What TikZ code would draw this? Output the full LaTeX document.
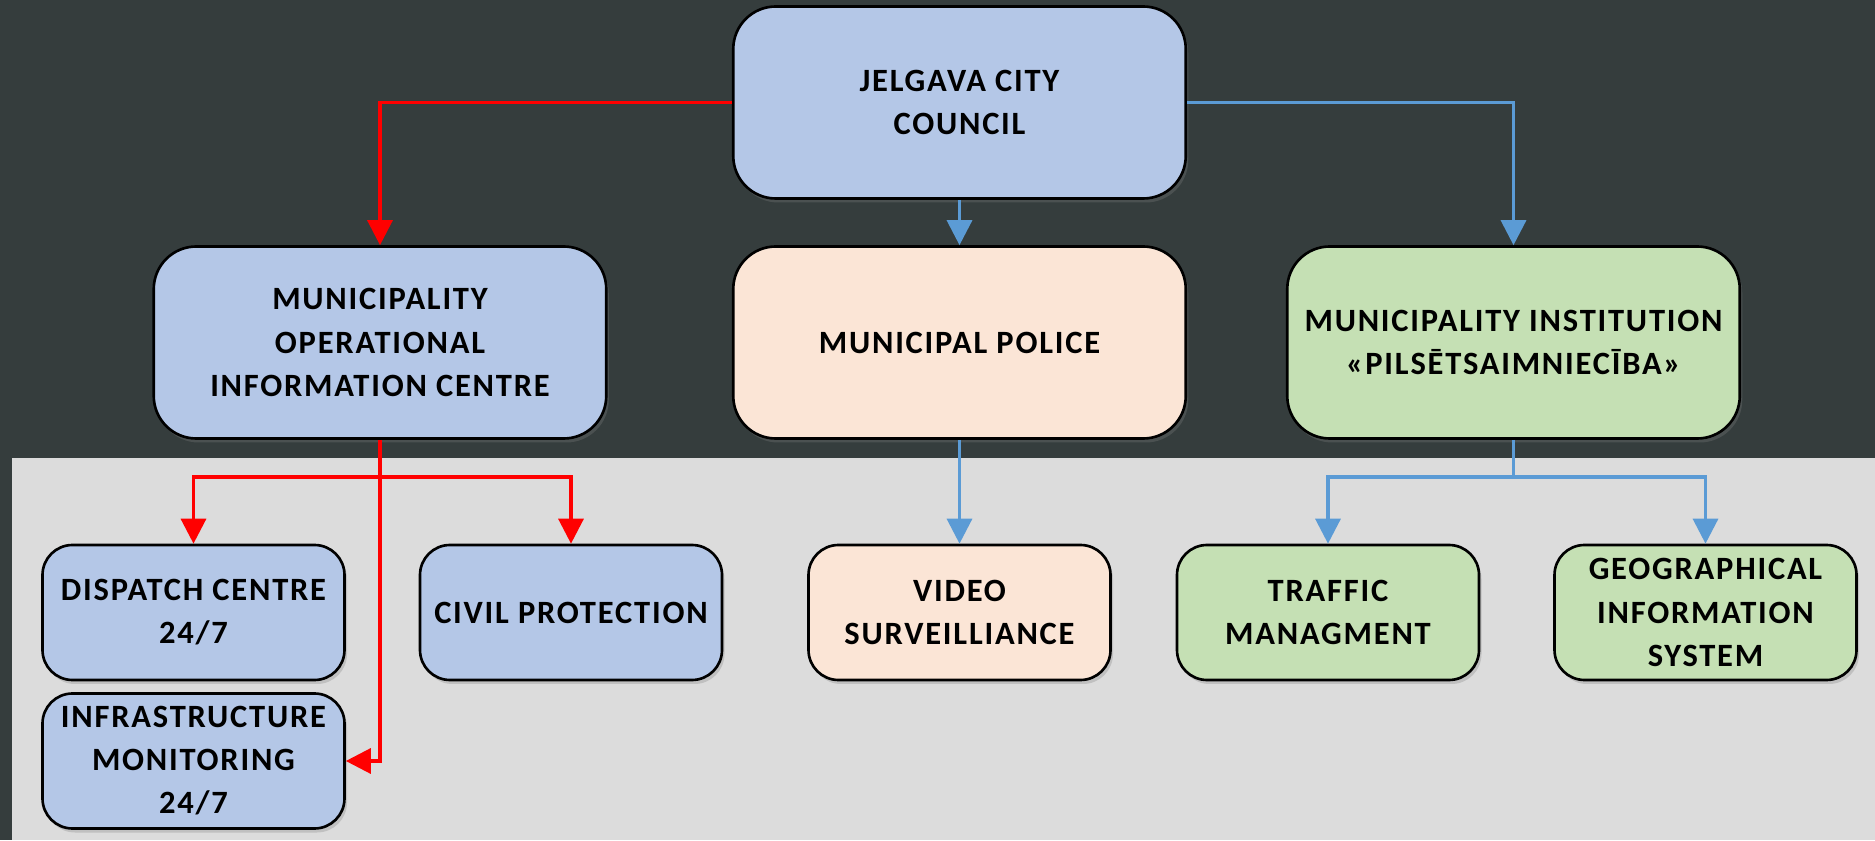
\documentclass[tikz,border=0pt]{standalone}
\usepackage{fontspec}
\setmainfont{Carlito}[LetterSpace=5.5]
\usetikzlibrary{arrows.meta,shadows}
\definecolor{bgdark}{RGB}{53,61,61}
\definecolor{panelgray}{RGB}{220,220,220}
\definecolor{boxblue}{RGB}{180,199,231}
\definecolor{boxpeach}{RGB}{251,229,214}
\definecolor{boxgreen}{RGB}{197,224,180}
\definecolor{linkred}{RGB}{255,0,0}
\definecolor{linkblue}{RGB}{91,155,213}

\begin{document}
\begin{tikzpicture}[
    unit/.style={draw=black, line width=1.5pt, rounded corners=0.85cm,
        minimum width=9.05cm, minimum height=3.84cm, inner sep=0pt, align=center,
        font=\bfseries\fontsize{18.5}{24.5}\selectfont,
        drop shadow={opacity=0.3, shadow xshift=0.05cm, shadow yshift=-0.08cm}},
    subunit/.style={unit, rounded corners=0.6cm, minimum width=6.04cm, minimum height=2.7cm},
    redlink/.style={linkred, line width=1.9pt, -{Triangle[width=0.5cm, length=0.5cm]}},
    bluelink/.style={linkblue, line width=1.9pt, -{Triangle[width=0.5cm, length=0.5cm]}}
]
    % Fondo
    \fill[bgdark] (0,0) rectangle (37.5,16.8);
    \fill[panelgray] (0.24,0) rectangle (37.5,7.64);

    % Nivel superior
    \node[unit, fill=boxblue] (council) at (19.19,14.75) {JELGAVA CITY\\COUNCIL};

    % Segundo nivel
    \node[unit, fill=boxblue] (opcentre) at (7.60,9.95) {MUNICIPALITY\\OPERATIONAL\\INFORMATION CENTRE};
    \node[unit, fill=boxpeach] (police) at (19.19,9.95) {MUNICIPAL POLICE};
    \node[unit, fill=boxgreen] (institution) at (30.27,9.95) {MUNICIPALITY INSTITUTION\\«PILSĒTSAIMNIECĪBA»};

    % Tercer nivel
    \foreach \name/\x/\col/\txt in {dispatch/3.87/boxblue/{DISPATCH CENTRE\\24/7},
                                    civil/11.42/boxblue/{CIVIL PROTECTION},
                                    video/19.19/boxpeach/{VIDEO\\SURVEILLIANCE},
                                    traffic/26.56/boxgreen/{TRAFFIC\\MANAGMENT},
                                    gis/34.11/boxgreen/{GEOGRAPHICAL\\INFORMATION\\SYSTEM}} {
        \node[subunit, fill=\col] (\name) at (\x,4.55) {\txt};
    }
    \node[subunit, fill=boxblue] (infra) at (3.87,1.58) {INFRASTRUCTURE\\MONITORING\\24/7};

    % Enlaces
    \draw[redlink] (council.west) -| (opcentre.north);
    \draw[bluelink] (council.south) -- (police.north);
    \draw[bluelink] (council.east) -| (institution.north);

    \coordinate (redfork) at (7.60,7.26);
    \draw[redlink] (opcentre.south) |- (infra.east);
    \draw[redlink] (redfork) -| (dispatch.north);
    \draw[redlink] (redfork) -| (civil.north);

    \draw[bluelink] (police.south) -- (video.north);

    \coordinate (bluefork) at (30.27,7.26);
    \draw[bluelink] (institution.south) -- (bluefork) -| (traffic.north);
    \draw[bluelink] (bluefork) -| (gis.north);
\end{tikzpicture}
\end{document}
